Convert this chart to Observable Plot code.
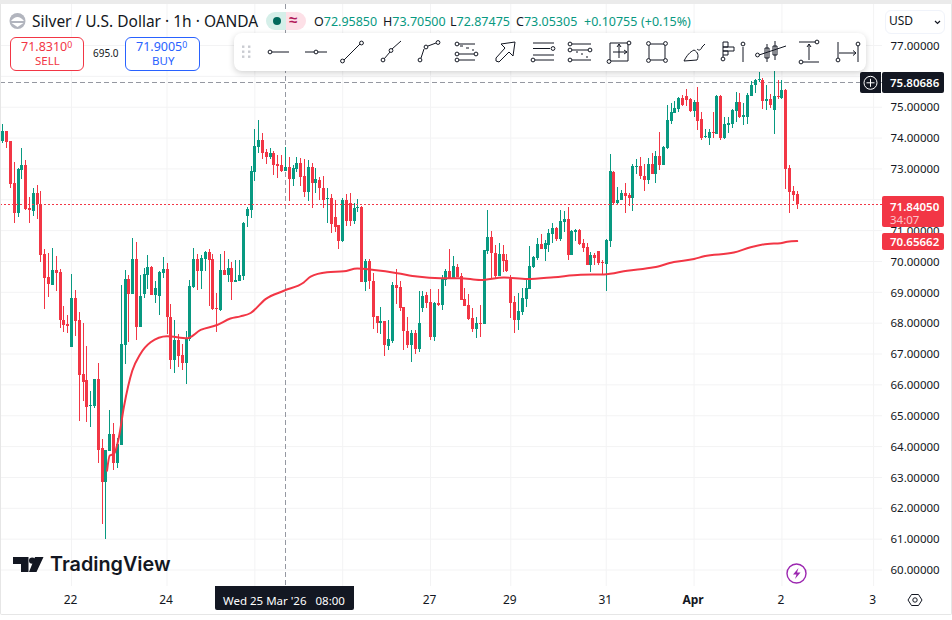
<!DOCTYPE html>
<html>
<head>
<meta charset="utf-8">
<script src="https://cdn.jsdelivr.net/npm/d3@7"></script>
<script src="https://cdn.jsdelivr.net/npm/@observablehq/plot@0.6"></script>
<style>
  html, body { margin: 0; padding: 0; background: #fff; }
  #page { position: relative; width: 952px; height: 620px; overflow: hidden; font-family: "Noto Sans", sans-serif; color: #131722; }
  #chart svg { display: block; position: absolute; left: 0; top: 0; }
  #page .t { position: absolute; white-space: nowrap; line-height: 1; }
  #page .box { position: absolute; box-sizing: border-box; }
  #page sup { font-size: 70%; vertical-align: baseline; position: relative; top: -3px; }
</style>
</head>
<body>
<div id="page"><div id="chart"></div></div>
<script>
// hourly candles
const opens = [
  73.88,74.20,73.88,72.54,71.56,72.94,73.10,71.71,71.62,72.19,
  71.86,70.22,69.47,69.22,69.70,69.64,68.10,67.95,67.22,68.80,
  68.08,66.33,66.14,65.31,65.31,66.17,63.94,62.85,63.85,64.39,
  63.46,64.05,67.29,69.41,68.94,70.06,67.87,68.93,69.54,69.80,
  68.90,68.87,69.61,69.74,68.18,66.80,67.44,66.95,66.70,67.46,
  69.15,70.06,69.67,70.06,70.29,70.06,68.46,68.41,69.70,69.54,
  69.77,69.32,69.36,69.52,71.45,71.66,72.89,73.70,73.91,73.52,
  73.36,73.49,73.14,73.10,72.93,73.04,72.65,72.97,73.17,72.75,
  72.23,73.04,72.52,72.62,72.38,72.00,72.03,71.42,71.16,70.64,
  71.97,71.87,71.29,71.71,71.74,69.32,69.99,69.35,68.21,67.98,
  68.05,67.24,67.40,69.22,69.15,68.50,67.73,67.27,67.66,67.14,
  68.47,68.89,68.67,67.53,68.63,68.57,69.38,69.67,69.44,69.80,
  69.51,68.76,68.57,68.15,67.79,67.98,67.95,70.32,70.77,70.25,
  69.51,70.22,70.03,69.41,68.67,68.08,68.34,68.76,69.09,69.80,
  70.09,70.54,70.38,70.51,70.87,71.06,70.71,71.26,71.35,70.19,
  70.94,71.00,70.58,70.45,69.86,70.19,70.32,69.96,69.90,70.64,
  72.88,71.87,71.97,72.20,72.13,72.03,73.04,73.07,72.75,72.62,
  73.14,72.81,73.39,73.10,73.65,74.53,74.79,74.92,75.27,75.34,
  75.24,74.85,75.14,74.59,74.01,73.98,74.17,74.11,75.34,73.98,
  74.40,74.43,74.85,75.14,74.66,74.66,75.34,75.70,75.86,75.86,
  75.18,75.24,74.89,75.34,75.27,75.54,73.00,72.26,72.16
];
const closes = [
  74.20,73.86,72.50,71.56,72.97,73.10,71.68,71.65,72.19,71.86,
  70.20,69.45,69.26,69.70,69.62,68.09,67.92,67.89,68.80,68.05,
  66.31,66.08,65.28,65.33,66.17,63.88,62.85,63.87,64.39,63.46,
  64.07,67.31,69.41,68.94,70.06,67.87,68.86,69.57,69.80,68.90,
  69.12,69.65,69.74,68.18,66.80,67.44,66.93,66.69,67.51,69.19,
  70.06,69.67,70.09,70.29,70.03,68.45,68.44,69.70,69.54,69.77,
  69.32,69.38,69.53,71.23,71.69,72.91,73.72,73.91,73.51,73.37,
  73.49,73.10,73.08,72.91,73.04,72.65,73.01,73.17,72.71,72.23,
  73.04,72.52,72.65,72.36,71.97,72.03,71.19,71.09,70.64,71.97,
  71.29,71.29,71.71,71.74,69.31,69.99,69.35,68.18,67.98,68.05,
  67.27,67.47,69.22,69.12,68.47,67.73,67.27,67.66,67.14,67.98,
  68.86,68.63,67.53,68.63,68.57,69.41,69.67,69.44,69.83,69.48,
  68.73,68.54,68.12,67.79,67.98,67.95,70.35,70.77,70.25,69.51,
  70.22,69.99,69.67,68.63,68.08,68.37,68.79,69.12,69.83,70.12,
  70.54,70.38,70.58,70.90,71.06,70.71,71.29,71.35,70.19,70.97,
  71.00,70.54,70.41,69.86,70.19,70.09,69.93,69.93,70.67,72.91,
  71.87,71.97,72.20,72.10,72.03,73.07,73.07,72.75,72.62,73.14,
  72.81,73.39,73.10,73.69,74.56,74.82,74.95,75.27,75.05,75.21,
  74.85,75.14,74.53,73.98,74.04,74.17,74.14,75.34,73.98,74.43,
  74.46,74.89,75.14,74.66,74.72,75.37,75.70,75.86,75.89,75.18,
  75.24,75.05,75.34,75.31,75.54,72.97,72.23,72.13,71.84
];
const highs = [
  74.45,74.20,73.88,73.21,73.02,73.66,73.26,72.08,72.38,72.45,
  72.26,70.40,70.27,70.41,70.15,69.73,68.54,68.25,69.57,69.06,
  68.34,67.99,67.24,65.77,66.19,66.69,64.23,63.87,65.17,64.76,
  64.25,69.22,69.70,69.54,70.76,70.60,69.54,69.77,70.19,69.83,
  69.35,69.67,70.13,69.93,68.62,68.08,67.63,67.31,67.73,69.38,
  70.42,70.22,70.19,70.33,70.38,70.22,68.96,70.22,70.32,70.06,
  69.97,70.03,70.03,71.27,71.74,73.07,74.27,74.56,74.16,73.64,
  73.65,73.55,73.43,73.42,73.68,73.36,73.10,73.37,73.35,73.30,
  73.27,73.18,73.02,72.71,72.75,72.37,72.16,71.97,71.16,72.04,
  72.16,72.20,71.87,72.00,71.77,70.06,70.06,69.60,68.21,68.50,
  68.05,68.08,69.31,69.74,69.35,68.50,68.18,67.76,67.76,69.02,
  69.02,68.99,69.09,68.67,69.09,69.54,69.74,70.38,70.16,69.90,
  69.60,69.12,68.93,68.47,68.18,68.57,70.35,71.65,70.97,70.51,
  70.58,70.51,70.22,69.54,68.86,68.96,69.12,69.38,70.48,70.16,
  70.74,70.87,70.67,71.03,71.22,71.10,71.65,71.61,71.74,71.00,
  71.03,71.03,70.71,70.58,70.29,70.25,70.32,70.03,70.71,73.46,
  72.91,72.39,72.29,72.52,72.20,73.14,73.30,73.36,73.14,73.33,
  73.49,73.56,74.17,73.72,75.05,75.11,75.18,75.31,75.37,75.57,
  75.27,75.21,75.63,74.82,74.27,74.27,74.82,75.37,75.37,74.66,
  74.66,74.92,75.47,75.44,75.11,75.44,75.82,75.90,76.12,75.92,
  75.70,75.40,76.15,75.86,75.86,75.56,73.11,72.42,72.26
];
const lows = [
  73.83,73.66,72.37,71.23,71.43,72.65,71.65,71.23,71.45,71.36,
  69.97,68.45,68.84,69.22,69.02,67.83,67.71,67.65,67.22,67.57,
  64.82,65.46,64.79,64.63,65.24,63.46,61.49,61.00,63.85,63.22,
  63.30,64.05,66.66,67.38,68.94,67.44,67.87,68.81,69.09,68.90,
  68.65,68.26,69.46,67.63,66.51,66.38,66.57,66.46,66.02,67.41,
  69.12,69.06,69.09,69.67,68.54,68.41,67.71,68.38,69.54,69.32,
  68.73,69.32,69.36,69.38,71.10,71.40,72.60,73.50,73.32,73.14,
  73.29,72.78,72.68,72.87,72.91,71.94,72.42,72.89,72.42,72.06,
  71.95,71.71,72.21,71.97,71.73,71.22,70.90,70.93,70.38,70.61,
  71.13,71.13,71.19,71.58,69.31,69.02,69.09,67.79,67.66,67.63,
  66.92,67.11,67.34,68.60,68.37,67.11,67.18,66.72,66.98,67.05,
  68.34,68.47,67.44,67.40,68.54,68.41,69.18,69.41,69.41,69.48,
  68.73,68.54,68.08,67.69,67.50,67.53,67.95,70.22,69.41,69.41,
  69.51,69.64,69.64,68.15,67.66,67.76,68.24,68.50,69.09,69.77,
  70.03,70.38,69.99,70.29,70.58,70.64,70.64,70.93,70.03,70.19,
  70.64,70.51,70.29,69.86,69.64,69.86,69.86,69.54,69.02,70.45,
  71.81,71.84,71.97,71.55,71.78,71.61,72.81,72.65,72.26,72.49,
  72.81,72.52,72.94,73.10,73.62,74.43,74.79,74.82,75.01,75.01,
  74.82,74.66,74.24,73.91,73.98,73.75,73.98,74.11,73.91,73.95,
  74.14,74.30,74.50,74.63,74.40,74.43,75.34,75.44,75.79,74.92,
  74.89,74.95,74.11,75.24,75.24,72.32,71.55,71.94,71.68
];

// moving average, candle number and price
const maIndex = [27.3,28,29.1,30.4,31.7,33.9,35.9,38.7,43,48.3,51.8,56.1,59.6,62.2,64.9,68.8,73.6,78.8,80.6,84.9,89.3,92.8,97.2,103.3,108.5,114.6,119.8,125,131.2,137.3,144.3,151.3,157.4,163.5,170.5,175.7,181,183.6,191.4,195.8,200.2,203.6,205.4,208];
const maValue = [63.22,63.71,63.76,64.30,65.28,66.46,66.98,67.38,67.58,67.51,67.78,67.94,68.15,68.22,68.33,68.78,69.05,69.32,69.51,69.65,69.68,69.77,69.72,69.62,69.51,69.46,69.46,69.40,69.48,69.43,69.49,69.57,69.58,69.70,69.81,69.98,70.08,70.17,70.29,70.46,70.57,70.59,70.64,70.66];

const priceTicks = [60,61,62,63,64,65,66,67,68,69,70,71,72,73,74,75,76,77];
const priceLabels = priceTicks.filter(d => d !== 76); // 76 sits under the crosshair tag
const dayIndex = [18,43,66,89,112,133,158,181,204,228];
const dayLabels = ["22","24","","","27","29","31","Apr","2","3"]; // 25 and 26 sit under the time tag

const crossIndex = 74;
const crossPrice = 75.80686;
const lastPrice = 71.84050;
const maLast = 70.65662;

const green = "#089981";
const red = "#f23645";
const gridColor = "#f3f3f4";

const candles = opens.map((o, i) => ({
  i, open: o, close: closes[i], high: highs[i], low: lows[i],
  dir: closes[i] >= o ? "up" : "down"
}));
const ma = maIndex.map((x, i) => ({x, y: maValue[i]}));

const chart = Plot.plot({
  width: 952,
  height: 620,
  marginLeft: 0,
  marginRight: 70,
  marginTop: 4,
  marginBottom: 34,
  style: {fontFamily: '"Noto Sans", sans-serif', background: "transparent", color: "#131722"},
  x: {domain: [0, 208], range: [2.3, 796.7]},
  y: {domain: [60, 77], range: [569.5, 45]},
  color: {domain: ["up", "down"], range: [green, red]},
  marks: [
    Plot.ruleY(priceTicks, {stroke: gridColor, strokeWidth: 1}),
    Plot.ruleX(dayIndex, {stroke: gridColor, strokeWidth: 1}),
    Plot.axisY({anchor: "right", ticks: priceLabels, tickSize: 0, tickPadding: 8, fontSize: 11.5, dy: 0.5, label: null, tickFormat: d => d.toFixed(5)}),
    Plot.axisX({ticks: dayIndex.filter((d, i) => dayLabels[i]), tickSize: 0, tickPadding: 9, fontSize: 12, dx: -1, label: null, tickFormat: d => dayLabels[dayIndex.indexOf(d)]}),
    Plot.ruleX([crossIndex], {stroke: "#9598a1", strokeDasharray: "5 3", shapeRendering: "crispEdges"}),
    Plot.ruleY([crossPrice], {stroke: "#9598a1", strokeDasharray: "5 3", shapeRendering: "crispEdges"}),
    Plot.ruleX(candles, {x: "i", y1: "low", y2: "high", stroke: "dir", strokeWidth: 1, shapeRendering: "crispEdges"}),
    Plot.ruleX(candles, {x: "i", y1: "open", y2: "close", stroke: "dir", strokeWidth: 3, shapeRendering: "crispEdges"}),
    Plot.line(ma, {x: "x", y: "y", stroke: red, strokeWidth: 2, curve: "monotone-x"}),
    Plot.ruleY([lastPrice], {stroke: red, strokeDasharray: "2 2", shapeRendering: "crispEdges"})
  ]
});
document.getElementById("chart").append(chart);
d3.select(chart).selectAll("text").filter(function() { return this.textContent === "Apr"; }).attr("font-weight", 700);

// chrome laid over the chart
const page = d3.select("#page");
const yPx = chart.scale("y");

function box(left, top, w, h, css) {
  const s = page.append("div").attr("class", "box")
    .style("left", left + "px").style("top", top + "px")
    .style("width", w + "px").style("height", h + "px");
  if (css) s.node().style.cssText += css;
  return s;
}
function label(html, left, top, size, color, extra) {
  const s = page.append("div").attr("class", "t").html(html)
    .style("left", left + "px").style("top", top + "px")
    .style("font-size", size + "px").style("color", color || "#131722");
  if (extra) s.node().style.cssText += extra;
  return s;
}

// window frame
box(0, 0, 952, 4, "background:#ebebeb;");
box(0, 4, 952, 611, "border:1px solid #e6e6e6;border-top:0;border-radius:0 0 2px 2px;");

// header
const overlay = page.append("svg").attr("width", 952).attr("height", 620)
  .style("position", "absolute").style("left", 0).style("top", 0).style("z-index", 5);
overlay.append("circle").attr("cx", 17.5).attr("cy", 21).attr("r", 8).attr("fill", "#b2b5be");
overlay.append("path").attr("d", "M11 21Q17.5 13 24 21ZM11.5 23H23.5L17.5 27Z").attr("fill", "#fff");

label("Silver / U.S. Dollar · 1h · OANDA", 32, 14, 15.5);
box(266, 12, 20, 18, "background:#d5efe9;border-radius:9px 0 0 9px;");
box(286, 12, 20, 18, "background:#fde0e7;border-radius:0 9px 9px 0;");
overlay.append("circle").attr("cx", 277).attr("cy", 21).attr("r", 4).attr("fill", "#00695c");
label("≈", 289, 12, 15, "#b2185a", "font-weight:700;");
const ohlcKeys = [["O", 314], ["H", 383], ["L", 450], ["C", 516]];
const ohlcVals = ["72.95850", "73.70500", "72.87475", "73.05305"];
ohlcKeys.forEach(([k, x], i) => label(`<span style="color:#131722">${k}</span>${ohlcVals[i]}`, x, 15.5, 12.5, green));
label("+0.10755", 584, 15.5, 12.5, green);
label("(+0.15%)", 641, 15.5, 12.5, green);

// sell and buy
box(10, 37, 74, 34, `border:1px solid ${red};border-radius:6px;background:#fff;`);
label("71.8310<sup>0</sup>", 21, 41, 12.5, red);
label("SELL", 35, 55, 11.5, red);
label("695.0", 93, 48, 10, "#131722");
box(125, 37, 75, 34, "border:1px solid #2962ff;border-radius:6px;background:#fff;");
label("71.9005<sup>0</sup>", 136, 41, 12.5, "#2962ff");
label("BUY", 152, 55, 11.5, "#2962ff");

// currency
box(885, 10, 60, 24, "border:1px solid #f0f3fa;border-radius:6px;background:#fff;");
label("USD", 889, 15, 12, "#131722");
overlay.append("path").attr("d", "M935 21L937.5 23.5L940 21").attr("fill", "none").attr("stroke", "#131722").attr("stroke-width", 1.2);

// drawing toolbar
box(234, 33, 632, 38, "background:#fff;border-radius:8px;box-shadow:0 2px 6px rgba(0,0,0,.18);z-index:4;");
const grip = overlay.append("g").attr("fill", "#c9cbd1");
[243, 249].forEach(x => [46.5, 51.5, 56.5].forEach(y => grip.append("rect").attr("x", x - 1).attr("y", y - 1).attr("width", 2.4).attr("height", 2.4)));
const icons = [
  {cx: 278, d: "M-6 0H11", dots: [[-8, 0]]},
  {cx: 316, d: "M-11 0H-2M2 0H11", dots: [[0, 0]]},
  {cx: 352, d: "M-8 8L8 -8", dots: [[-9.5, 9], [9.5, -9]]},
  {cx: 391, d: "M-7 7L-1 0M1 -3L10 -11", dots: [[-8, 8], [0, -1.5]]},
  {cx: 429, d: "M-8 6L-5 -3M-1 -6L7 -9", dots: [[-9, 8], [-3, -5], [9, -9.5]]},
  {cx: 467, d: "M-8 -8H8M-8 2H7M-8 8H8M-7 -6H-4M-1 -4H2M5 -2H7", dots: [[-10, -8], [-10, 2], [-10, 8], [9, 2]]},
  {cx: 505, d: "M-9 9L-6 10L4 0L8 4L10 -10L-4 -8L0 -4L-9 6Z"},
  {cx: 543, d: "M-10 -9H11M-10 -3.5H7M-10 3H11M-8 8H11", dots: [[10, -3.5], [-10, 8]]},
  {cx: 580, d: "M-8 -8H11M-8 -2H8M-8 8H11M-4 0H-2M1 2H3M6 5H8", dots: [[-10, -8], [-10, -2], [-10, 8], [10, -2]]},
  {cx: 619, d: "M-9 -9H9V9H-9ZM0 -8V6M-6 0H8M-2 -5L0 -8L2 -5M5 -2L8 0L5 2", dots: [[-10, 9.5], [10, -9]]},
  {cx: 657, d: "M-8 -8H8V8H-8Z", dots: [[-8.5, -8.5], [8.5, -8.5], [-8.5, 8.5], [8.5, 8.5]]},
  {cx: 695, d: "M-11 9C-8 3 -5 0 -1 -2C3 0 4 4 2 8ZM2 -3C4 -1 6 -2 7 -5L10 -8"},
  {cx: 733, d: "M-10 -10V5M-10 -10H-5V-5H-10M-10 -5H1V-1H-10M-10 -1H-5V3H-10M10 -5V10", dots: [[-10, 7], [10, -8]]},
  {cx: 771, d: "M-4 -8V10M-6 -4H-2V6H-6ZM4 -11V8M2 -6H6V3H2ZM-12 3L15 -6", dots: [[-13.5, 3]]},
  {cx: 809, d: "M-10 -10H7M-6 10H10M0 -8V8M-2 -5L0 -8L2 -5", dots: [[8, -10], [-8, 10]]},
  {cx: 848, d: "M-10 -10V6M10 -6V10M-9 1H8M5 -1.5L8 1L5 3.5", dots: [[-10, 8], [10, -8]]}
];
icons.forEach(ic => {
  const g = overlay.append("g").attr("transform", `translate(${ic.cx},52)`).attr("fill", "none").attr("stroke", "#131722").attr("stroke-width", 1);
  g.append("path").attr("d", ic.d);
  (ic.dots || []).forEach(([x, y]) => g.append("circle").attr("cx", x).attr("cy", y).attr("r", 1.9).attr("fill", "#fff"));
});

// price tags, placed by the chart's own y scale
function tag(top, h, color) {
  box(882, top, 62, h, `background:${color};border-radius:2px;z-index:3;`);
}
const crossY = yPx.apply(crossPrice);
tag(crossY - 9.5, 21, "#131722");
label(crossPrice.toFixed(5), 890, crossY - 5, 11.5, "#fff", "z-index:6;font-weight:600;");
box(860, crossY - 9.5, 21, 21, "background:#131722;border-radius:2px 0 0 2px;z-index:3;");
overlay.append("circle").attr("cx", 870.5).attr("cy", crossY + 1).attr("r", 6.5).attr("fill", "none").attr("stroke", "#fff");
overlay.append("path").attr("d", `M866.5 ${crossY + 1}H874.5M870.5 ${crossY - 3}V${crossY + 5}`).attr("stroke", "#fff");

const lastY = yPx.apply(lastPrice);
tag(lastY - 8, 31, red);
label(lastPrice.toFixed(5), 890, lastY - 3.5, 11.5, "#fff", "z-index:6;font-weight:600;");
label("34:07", 890, lastY + 9.5, 11.5, "#fbc4cb", "z-index:6;");

const maY = yPx.apply(maLast);
tag(maY - 7.5, 17, red);
label(maLast.toFixed(5), 890, maY - 4.5, 11.5, "#fff", "z-index:6;font-weight:600;");

// crosshair time tag
box(215, 586, 139, 24, "background:#131722;border-radius:0 0 2px 2px;z-index:3;");
label("Wed 25 Mar '26 &nbsp; 08:00", 223, 595, 11.5, "#fff", "z-index:6;");

// logo
overlay.append("path").attr("fill", "#131722").attr("d", "M13 557H28.5V572H21V564H13ZM36.5 572H29L35 557H43.5Z");
overlay.append("circle").attr("cx", 32.2).attr("cy", 560.6).attr("r", 3.2).attr("fill", "#131722");
label("TradingView", 50, 555, 19.8, "#131722", 'font-family:Inter,sans-serif;font-weight:600;');

// bolt badge and settings
overlay.append("circle").attr("cx", 796.5).attr("cy", 573.5).attr("r", 9.5).attr("fill", "#fff").attr("stroke", "#9c27b0").attr("stroke-width", 1.4);
overlay.append("path").attr("fill", "#9c27b0").attr("d", "M798.5 568L793 574.5H796.5L795 579L800.5 572.5H797Z");
overlay.append("path").attr("fill", "none").attr("stroke", "#131722").attr("d", "M908 600L911.5 594.5H918.5L922 600L918.5 605.5H911.5Z");
overlay.append("circle").attr("cx", 915).attr("cy", 600).attr("r", 2.2).attr("fill", "none").attr("stroke", "#131722");
</script>
</body>
</html>
